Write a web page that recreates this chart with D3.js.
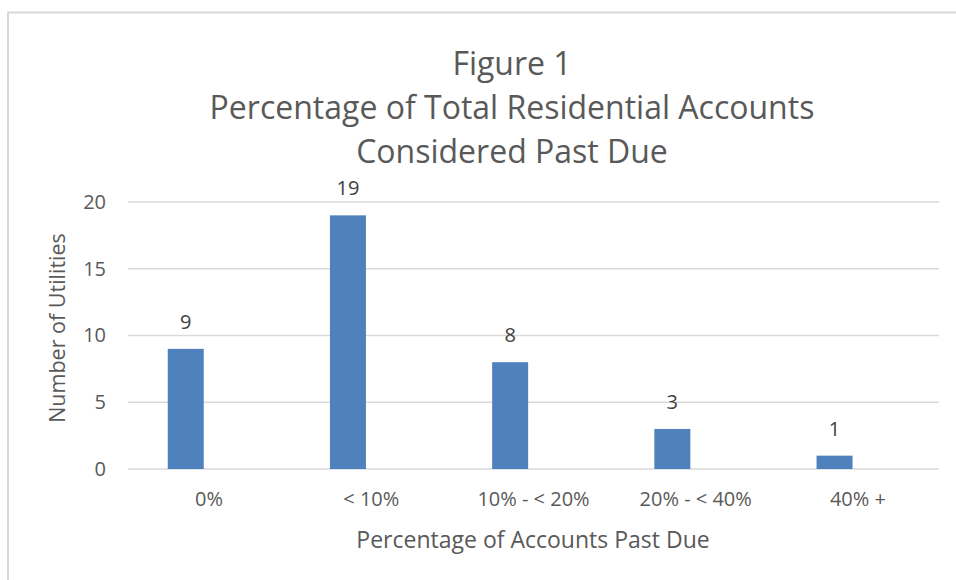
<!DOCTYPE html>
<html>
<head>
<meta charset="utf-8">
<script src="https://cdn.jsdelivr.net/npm/d3@7"></script>
<style>
  body { margin: 0; background: #fff; }
  svg text { font-family: "Open Sans", "Noto Sans", sans-serif; }
</style>
</head>
<body>
<div id="app"></div>
<script>
const categories = ["0%", "< 10%", "10% - < 20%", "20% - < 40%", "40% +"];
const utilities = [9, 19, 8, 3, 1];
const yTicks = [0, 5, 10, 15, 20];
const titleLines = ["Figure 1", "Percentage of Total Residential Accounts", "Considered Past Due"];

const w = 956;
const h = 580;
const margin = { top: 202, right: 17, bottom: 111, left: 128 };
const innerW = w - margin.left - margin.right;
const innerH = h - margin.top - margin.bottom;

const svg = d3.select("#app").append("svg").attr("width", w).attr("height", h);

// chart area border
svg.append("rect")
  .attr("x", 8).attr("y", 12.5)
  .attr("width", 1000).attr("height", 700)
  .attr("fill", "none")
  .attr("stroke", "#d9d9d9")
  .attr("stroke-width", 2);

// title
svg.append("g")
  .selectAll("text")
  .data(titleLines)
  .enter()
  .append("text")
  .attr("x", 512)
  .attr("y", (d, i) => 75 + i * 44)
  .attr("text-anchor", "middle")
  .attr("font-size", 32)
  .attr("fill", "#595959")
  .text((d) => d);

const g = svg.append("g").attr("transform", `translate(${margin.left},${margin.top})`);

const x = d3.scaleBand().domain(categories).range([0, innerW]);
const y = d3.scaleLinear().domain([0, 20]).range([innerH, 0]);

//gridlines
g.append("g")
  .selectAll("line")
  .data(yTicks)
  .enter()
  .append("line")
  .attr("x1", 0)
  .attr("x2", innerW)
  .attr("y1", (d) => y(d))
  .attr("y2", (d) => y(d))
  .attr("stroke", "#d9d9d9")
  .attr("stroke-width", 1.5);

// y axis labels
const yAxis = d3.axisLeft(y).tickValues(yTicks).tickSize(0).tickPadding(22);
g.append("g")
  .call(yAxis)
  .call((s) => s.select(".domain").remove())
  .call((s) => s.selectAll("text")
    .attr("font-size", 20)
    .attr("fill", "#595959")
    .attr("font-family", "Open Sans, sans-serif"));

// x axis labels
const xAxis = d3.axisBottom(x).tickSize(0).tickPadding(23);
g.append("g")
  .attr("transform", `translate(0,${innerH})`)
  .call(xAxis)
  .call((s) => s.select(".domain").remove())
  .call((s) => s.selectAll("text")
    .attr("font-size", 20)
    .attr("fill", "#595959")
    .attr("font-family", "Open Sans, sans-serif"));

// bars (sit left of band centre, as in the original clustered layout)
const barOffset = x.bandwidth() * 0.245;
const barW = x.bandwidth() * 0.222;

g.selectAll("rect.bar")
  .data(utilities)
  .enter()
  .append("rect")
  .attr("class", "bar")
  .attr("x", (d, i) => x(categories[i]) + barOffset)
  .attr("y", (d) => y(d))
  .attr("width", barW)
  .attr("height", (d) => innerH - y(d))
  .attr("fill", "#4f81bd");

// value labels
g.selectAll("text.val")
  .data(utilities)
  .enter()
  .append("text")
  .attr("class", "val")
  .attr("x", (d, i) => x(categories[i]) + barOffset + barW / 2)
  .attr("y", (d) => y(d) - 20)
  .attr("text-anchor", "middle")
  .attr("font-size", 20)
  .attr("fill", "#404040")
  .text((d) => d);

// axis titles
svg.append("text")
  .attr("x", 533)
  .attr("y", 548)
  .attr("text-anchor", "middle")
  .attr("font-size", 23)
  .attr("fill", "#595959")
  .text("Percentage of Accounts Past Due");

svg.append("text")
  .attr("transform", "translate(65,328) rotate(-90)")
  .attr("text-anchor", "middle")
  .attr("font-size", 21.5)
  .attr("fill", "#595959")
  .text("Number of Utilities");
</script>
</body>
</html>
